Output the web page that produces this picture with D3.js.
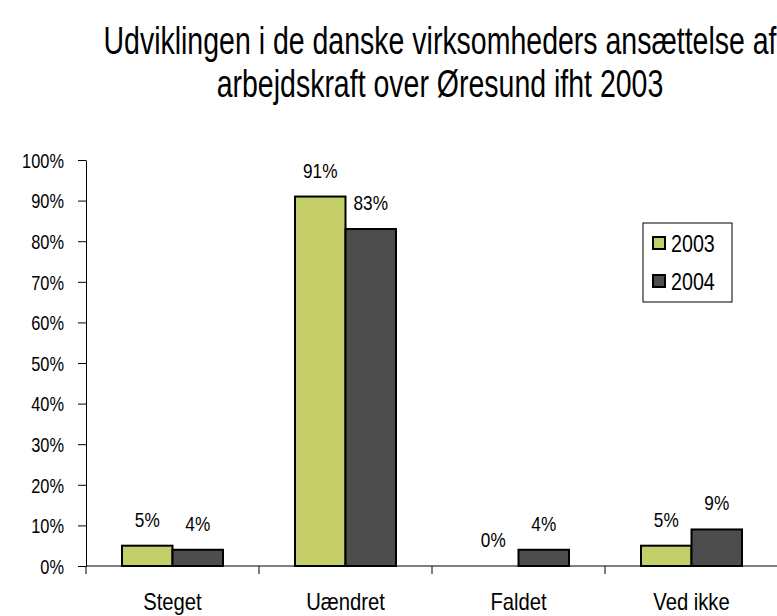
<!DOCTYPE html>
<html>
<head>
<meta charset="utf-8">
<script src="https://cdn.jsdelivr.net/npm/d3@7"></script>
<style>
  body { margin: 0; background: #fff; }
  text { font-family: "Liberation Sans Narrow", "Liberation Sans", Arial, sans-serif; fill: #000; }
</style>
</head>
<body>
<svg id="chart" width="777" height="616"></svg>
<script>
const categories = ["Steget", "Uændret", "Faldet", "Ved ikke"];
const seriesNames = ["2003", "2004"];
const values2003 = [0.05, 0.91, 0.00, 0.05];
const values2004 = [0.04, 0.83, 0.04, 0.09];
const colors = ["#c4cf69", "#4d4d4d"];
const titleLines = ["Udviklingen i de danske virksomheders ansættelse af", "arbejdskraft over Øresund ifht 2003"];

// no narrow font installed: squeeze the regular one horizontally
function place(sel, fx, fy, sx = 0.82) {
  sel.attr("x", 0).attr("y", 0)
    .attr("transform", (d, i) => `translate(${fx(d, i)},${fy(d, i)}) scale(${sx},1)`);
}

const svg = d3.select("#chart");
const margin = { top: 160, left: 86 };
const plotW = 692, plotH = 406;

const g = svg.append("g").attr("transform", `translate(${margin.left},${margin.top})`);

const x0 = d3.scaleBand().domain(categories).range([0, plotW]);
const x1 = d3.scaleBand().domain(seriesNames).range([36, x0.bandwidth() - 36]);
const y = d3.scaleLinear().domain([0, 1]).range([plotH, 0]);
const pct = d3.format(".0%");

// title
svg.append("g").selectAll("text").data(titleLines).join("text")
  .attr("text-anchor", "middle").style("font-size", "38px")
  .text(d => d)
  .call(place, () => 440, (d, i) => 54 + i * 43, 0.75);

// y axis
const yAxis = g.append("g")
  .call(d3.axisLeft(y).tickValues(d3.range(0, 1.01, 0.1)).tickFormat(pct).tickSize(8).tickSizeOuter(0));
yAxis.select(".domain").attr("stroke", "#000");
yAxis.selectAll(".tick line").attr("stroke", "#000");
yAxis.selectAll(".tick text").attr("dy", "0.36em").style("font-size", "20px")
  .call(place, () => -22, () => 0);

// x axis
const xAxis = g.append("g").attr("transform", `translate(0,${plotH})`);
xAxis.append("line").attr("x1", 0).attr("x2", plotW).attr("stroke", "#000");
xAxis.selectAll(".xtick").data(d3.range(categories.length + 1)).join("line")
  .attr("x1", i => i * x0.step()).attr("x2", i => i * x0.step())
  .attr("y1", 0).attr("y2", 8).attr("stroke", "#000");
xAxis.selectAll(".xlab").data(categories).join("text")
  .attr("text-anchor", "middle").style("font-size", "23px").text(d => d)
  .call(place, d => x0(d) + x0.bandwidth() / 2, () => 44, 0.88);

// bars
const rows = categories.map((c, i) => ({ cat: c, vals: [values2003[i], values2004[i]] }));
const grp = g.selectAll(".grp").data(rows).join("g").attr("transform", d => `translate(${x0(d.cat)},0)`);
const items = d => d.vals.map((v, j) => ({ s: seriesNames[j], v, j }));
grp.selectAll("rect").data(d => items(d).filter(e => e.v > 0)).join("rect")
  .attr("x", d => x1(d.s)).attr("width", x1.bandwidth())
  .attr("y", d => y(d.v)).attr("height", d => y(0) - y(d.v))
  .attr("fill", d => colors[d.j]).attr("stroke", "#000").attr("stroke-width", 2);
grp.selectAll(".lab").data(items).join("text")
  .attr("text-anchor", "middle").style("font-size", "21px")
  .text(d => pct(d.v))
  .call(place, d => x1(d.s) + x1.bandwidth() / 2, d => y(d.v) - 19);

// legend
const leg = svg.append("g").attr("transform", "translate(643,223)");
leg.append("rect").attr("width", 89).attr("height", 79).attr("fill", "#fff").attr("stroke", "#000").attr("stroke-width", 1);
const li = leg.selectAll(".li").data(seriesNames).join("g").attr("transform", (d, i) => `translate(10,${14 + i * 38})`);
li.append("rect").attr("width", 12).attr("height", 12).attr("fill", (d, i) => colors[i]).attr("stroke", "#000").attr("stroke-width", 2);
li.append("text").style("font-size", "24px").text(d => d)
  .call(place, () => 18, () => 15);
</script>
</body>
</html>
